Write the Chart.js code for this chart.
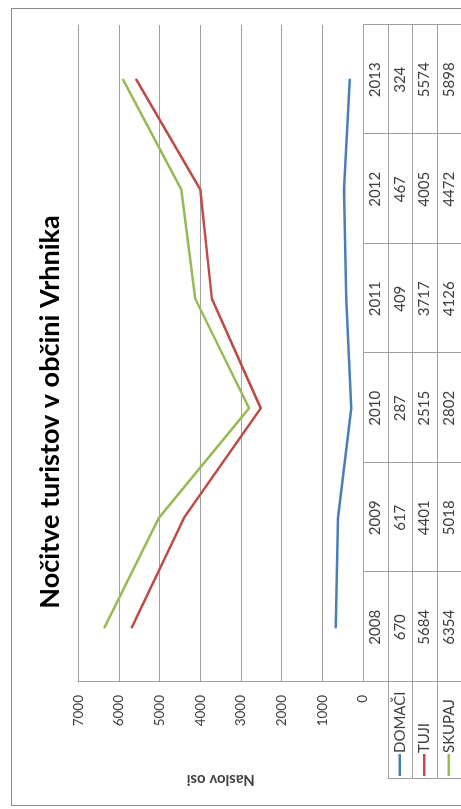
<!DOCTYPE html>
<html>
<head>
<meta charset="utf-8">
<script src="https://cdn.jsdelivr.net/npm/chart.js@4.4.1/dist/chart.umd.min.js"></script>
<style>
    html, body { margin: 0; padding: 0; background: #fff; overflow: hidden; }
    body { width: 461px; height: 809px; position: relative; }
    /* the chart is drawn upright and turned a quarter to the left, like the scan */
    #wrap {
        position: absolute;
        left: 0;
        top: 0;
        width: 809px;
        height: 470px;
        transform-origin: 0 0;
        transform: translate(0, 809px) rotate(-90deg);
    }
</style>
</head>
<body>
<div id="wrap"><canvas id="chart" width="809" height="470"></canvas></div>
<script>
const years = ['2008', '2009', '2010', '2011', '2012', '2013'];
const domaci = [670, 617, 287, 409, 467, 324];
const tuji = [5684, 4401, 2515, 3717, 4005, 5574];
const skupaj = [6354, 5018, 2802, 4126, 4472, 5898];
const seriesNames = ['DOMAČI', 'TUJI', 'SKUPAJ'];
const seriesColors = ['#4a7ebb', '#be4b48', '#98b954'];
const yMax = 7000;
const yStep = 1000;

const fontFamily = 'Lato, "Open Sans", sans-serif';
const lineGrey = '#a0a0a0';
const textGrey = '#404040';

// data table under the plot, drawn from the same arrays and the x scale
const dataTable = {
    id: 'dataTable',
    afterDraw(chart) {
        const ctx = chart.ctx;
        const area = chart.chartArea;
        const x = chart.scales.x;
        const rowH = 24.5;
        const top = area.bottom;
        const rows = [top, top + rowH, top + rowH * 2, top + rowH * 3, top + rowH * 4];
        const labelLeft = 30;
        const bounds = years.map((y, i) => x.getPixelForValue(i - 0.5));
        bounds.push(x.getPixelForValue(years.length - 0.5));
        const tableValues = [domaci, tuji, skupaj];

        ctx.save();
        ctx.strokeStyle = lineGrey;
        ctx.lineWidth = 1;
        ctx.beginPath();
        for (const b of bounds) {
            const px = Math.round(b) + 0.5;
            ctx.moveTo(px, top);
            ctx.lineTo(px, rows[4]);
        }
        for (let r = 1; r < rows.length; r++) {
            const py = Math.round(rows[r]) + 0.5;
            ctx.moveTo(labelLeft, py);
            ctx.lineTo(bounds[bounds.length - 1], py);
        }
        ctx.moveTo(labelLeft + 0.5, rows[1]);
        ctx.lineTo(labelLeft + 0.5, rows[4]);
        ctx.stroke();

        ctx.fillStyle = textGrey;
        ctx.font = '15px ' + fontFamily;
        ctx.textAlign = 'center';
        ctx.textBaseline = 'middle';
        years.forEach((year, i) => {
            const cx = x.getPixelForValue(i);
            ctx.fillText(year, cx, (rows[0] + rows[1]) / 2);
            tableValues.forEach((vals, s) => {
                ctx.fillText(String(vals[i]), cx, (rows[s + 1] + rows[s + 2]) / 2);
            });
        });

        // series names with their line keys
        ctx.textAlign = 'left';
        seriesNames.forEach((name, s) => {
            const cy = (rows[s + 1] + rows[s + 2]) / 2;
            ctx.strokeStyle = seriesColors[s];
            ctx.lineWidth = 2.5;
            ctx.beginPath();
            ctx.moveTo(labelLeft + 3, cy);
            ctx.lineTo(labelLeft + 25, cy);
            ctx.stroke();
            ctx.fillText(name, labelLeft + 26, cy);
        });

        // outer frame of the chart
        ctx.strokeStyle = '#8a8a8a';
        ctx.lineWidth = 1;
        ctx.strokeRect(3.5, 11.5, 797, 470);
        ctx.restore();
    }
};

const ctx = document.getElementById('chart').getContext('2d');
// eslint-disable-next-line no-undef, no-unused-vars
const myChart = new Chart(ctx, {
    type: 'line',
    data: {
        labels: years,
        datasets: [
            { label: seriesNames[0], data: domaci, borderColor: seriesColors[0] },
            { label: seriesNames[1], data: tuji, borderColor: seriesColors[1] },
            { label: seriesNames[2], data: skupaj, borderColor: seriesColors[2] }
        ]
    },
    options: {
        responsive: false,
        animation: false,
        layout: {
            padding: { left: 10, right: 25, top: 0, bottom: 107 }
        },
        elements: {
            point: { radius: 0 },
            line: { borderWidth: 2.5, tension: 0, borderJoinStyle: 'round', borderCapStyle: 'round' }
        },
        plugins: {
            legend: { display: false },
            tooltip: { enabled: false },
            title: {
                display: true,
                text: 'Nočitve turistov v občini Vrhnika',
                color: '#000',
                font: { family: fontFamily, size: 27, weight: 'bold' },
                padding: { top: 34, bottom: 12 }
            }
        },
        scales: {
            x: {
                type: 'category',
                offset: true,
                display: false
            },
            y: {
                min: 0,
                max: yMax,
                ticks: {
                    stepSize: yStep,
                    color: textGrey,
                    padding: 13,
                    font: { family: fontFamily, size: 13.5 },
                    callback: (value) => String(value)
                },
                grid: { color: lineGrey, drawTicks: false },
                border: { display: true, color: lineGrey },
                title: {
                    display: true,
                    text: 'Naslov osi',
                    color: textGrey,
                    font: { family: fontFamily, size: 15, weight: 'bold' },
                    padding: { top: 10, bottom: 0 }
                },
                afterFit(scale) {
                    scale.width = 117;
                }
            }
        }
    },
    plugins: [dataTable]
});
</script>
</body>
</html>
